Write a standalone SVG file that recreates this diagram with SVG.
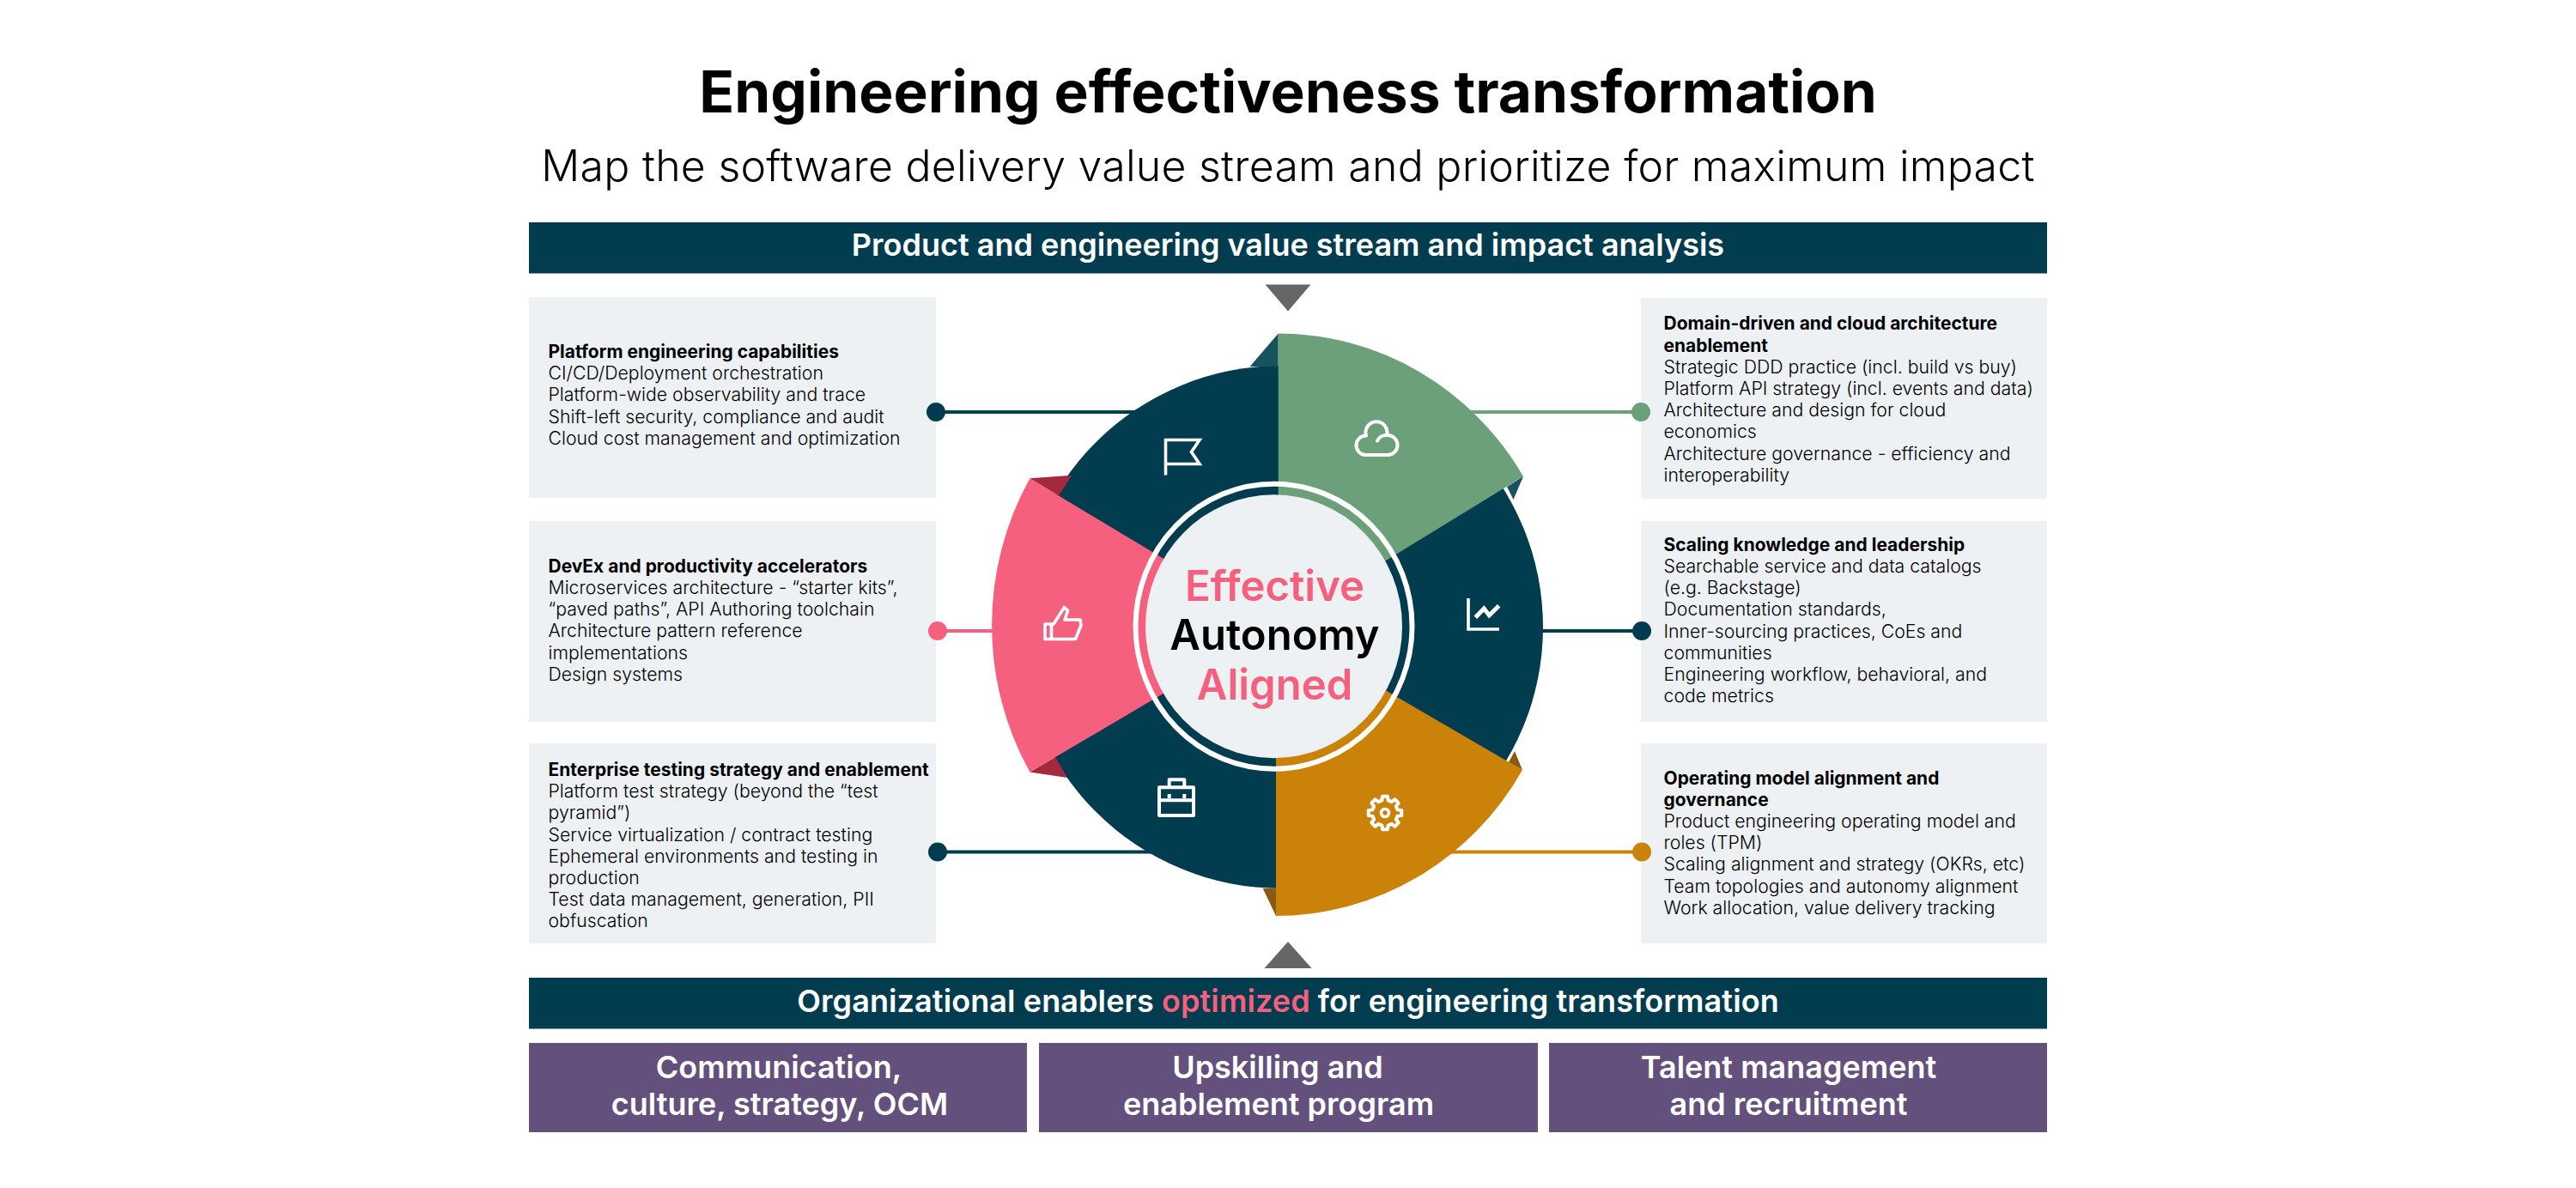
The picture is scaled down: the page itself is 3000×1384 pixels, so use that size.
<svg xmlns="http://www.w3.org/2000/svg" width="3000" height="1384" viewBox="0 0 3000 1384">
<defs><style>
text{font-family:Inter,"Noto Sans","Liberation Sans",sans-serif;font-variant-ligatures:none}
.title{font-size:67.500px;font-weight:700;fill:#000;text-anchor:middle}
.sub{font-size:50px;font-weight:300;fill:#000;text-anchor:middle;letter-spacing:.25px}
.bar{fill:#023d4f}
.bartext{font-size:36px;font-weight:600;fill:#fff;text-anchor:middle}
.purple{fill:#64507d}
.box{fill:#edf1f4}
.body{font-size:21.250px;font-weight:350;fill:#000}
.body .h{font-size:20.900px;font-weight:700;letter-spacing:.04px}
.pinkt{fill:#f4607d}
.center{font-size:49px;font-weight:600;text-anchor:middle}
.tri{fill:#666}
.ic{fill:none;stroke:#fff;stroke-width:4;stroke-linejoin:round}
.sharp{stroke-linejoin:miter;stroke-miterlimit:8;stroke-width:3.600px}
.rnd{stroke-linecap:round}
.line{stroke-width:4;fill:none}
</style></defs>
<rect width="3000" height="1384" fill="#fff"/>
<g id="header">
<text class="title" x="1500" y="131">Engineering effectiveness transformation</text>
<text class="sub" x="1500" y="211">Map the software delivery value stream and prioritize for maximum impact</text>
</g>
<g id="top-bar"><rect class="bar" x="616" y="259" width="1768" height="59.500"/><text class="bartext" x="1500" y="298">Product and engineering value stream and impact analysis</text></g>
<g id="box-platform"><rect class="box" x="616" y="346" width="474" height="234"/>
<text class="body" y="417"><tspan class="h" x="638.500">Platform engineering capabilities</tspan><tspan x="638.500" dy="25.200">CI/CD/Deployment orchestration</tspan><tspan x="638.500" dy="25.200">Platform-wide observability and trace</tspan><tspan x="638.500" dy="25.200">Shift-left security, compliance and audit</tspan><tspan x="638.500" dy="25.200">Cloud cost management and optimization</tspan></text></g>
<g id="box-devex"><rect class="box" x="616" y="607" width="474" height="234"/>
<text class="body" y="666.800"><tspan class="h" x="638.500">DevEx and productivity accelerators</tspan><tspan x="638.500" dy="25.200">Microservices architecture - “starter kits”,</tspan><tspan x="638.500" dy="25.200">“paved paths”, API Authoring toolchain</tspan><tspan x="638.500" dy="25.200">Architecture pattern reference</tspan><tspan x="638.500" dy="25.200">implementations</tspan><tspan x="638.500" dy="25.200">Design systems</tspan></text></g>
<g id="box-testing"><rect class="box" x="616" y="866" width="474" height="233"/>
<text class="body" y="904"><tspan class="h" x="638.500">Enterprise testing strategy and enablement</tspan><tspan x="638.500" dy="25.200">Platform test strategy (beyond the “test</tspan><tspan x="638.500" dy="25.200">pyramid”)</tspan><tspan x="638.500" dy="25.200">Service virtualization / contract testing</tspan><tspan x="638.500" dy="25.200">Ephemeral environments and testing in</tspan><tspan x="638.500" dy="25.200">production</tspan><tspan x="638.500" dy="25.200">Test data management, generation, PII</tspan><tspan x="638.500" dy="25.200">obfuscation</tspan></text></g>
<g id="box-domain"><rect class="box" x="1911" y="347" width="473" height="234"/>
<text class="body" y="384.300"><tspan class="h" x="1937.500">Domain-driven and cloud architecture</tspan><tspan class="h" x="1937.500" dy="25.200">enablement</tspan><tspan x="1937.500" dy="25.200">Strategic DDD practice (incl. build vs buy)</tspan><tspan x="1937.500" dy="25.200">Platform API strategy (incl. events and data)</tspan><tspan x="1937.500" dy="25.200">Architecture and design for cloud</tspan><tspan x="1937.500" dy="25.200">economics</tspan><tspan x="1937.500" dy="25.200">Architecture governance - efficiency and</tspan><tspan x="1937.500" dy="25.200">interoperability</tspan></text></g>
<g id="box-scaling"><rect class="box" x="1911" y="607" width="473" height="234"/>
<text class="body" y="641.800"><tspan class="h" x="1937.500">Scaling knowledge and leadership</tspan><tspan x="1937.500" dy="25.200">Searchable service and data catalogs</tspan><tspan x="1937.500" dy="25.200">(e.g. Backstage)</tspan><tspan x="1937.500" dy="25.200">Documentation standards,</tspan><tspan x="1937.500" dy="25.200">Inner-sourcing practices, CoEs and</tspan><tspan x="1937.500" dy="25.200">communities</tspan><tspan x="1937.500" dy="25.200">Engineering workflow, behavioral, and</tspan><tspan x="1937.500" dy="25.200">code metrics</tspan></text></g>
<g id="box-operating"><rect class="box" x="1911" y="866" width="473" height="233"/>
<text class="body" y="913.500"><tspan class="h" x="1937.500">Operating model alignment and</tspan><tspan class="h" x="1937.500" dy="25.200">governance</tspan><tspan x="1937.500" dy="25.200">Product engineering operating model and</tspan><tspan x="1937.500" dy="25.200">roles (TPM)</tspan><tspan x="1937.500" dy="25.200">Scaling alignment and strategy (OKRs, etc)</tspan><tspan x="1937.500" dy="25.200">Team topologies and autonomy alignment</tspan><tspan x="1937.500" dy="25.200">Work allocation, value delivery tracking</tspan></text></g>
<g id="connectors">
<path class="line" stroke="#023d4f" d="M1090,480H1325"/><circle cx="1090" cy="480" r="11" fill="#023d4f"/>
<path class="line" stroke="#6ca07a" d="M1710,480H1911"/><circle cx="1911" cy="480" r="11" fill="#6ca07a"/>
<path class="line" stroke="#f4607d" d="M1092,735H1160"/><circle cx="1092" cy="735" r="11" fill="#f4607d"/>
<path class="line" stroke="#023d4f" d="M1790,735H1912"/><circle cx="1912" cy="735" r="11" fill="#023d4f"/>
<path class="line" stroke="#023d4f" d="M1092,992.500H1345"/><circle cx="1092" cy="992.500" r="11" fill="#023d4f"/>
<path class="line" stroke="#ca8208" d="M1685,992.500H1912"/><circle cx="1912" cy="992.500" r="11" fill="#ca8208"/>
<path class="tri" d="M1473.500,331.500H1526.500L1500,362.500Z"/>
<path class="tri" d="M1472.500,1128H1527.500L1500,1097Z"/>
</g>
<g id="wheel">
<ellipse cx="1492" cy="730.500" rx="305" ry="304.500" fill="#023d4f"/>
<path fill="#17535f" d="M1488.700,388.600L1455.600,427H1488.700Z"/>
<path fill="#17535f" d="M1774,555L1755,567L1762.500,582Z"/>
<path fill="#a4293f" d="M1199.400,557.300L1248,553.800L1233,577.700Z"/>
<path fill="#a4293f" d="M1199.400,899.600L1229,882L1243,906Z"/>
<path fill="#8a5a10" d="M1773,897L1764,875L1757,888Z"/>
<path fill="#8a5a10" d="M1486,1067L1470.700,1035H1486Z"/>
<path fill="#6ca07a" d="M1488.700,730V388.600A332,342 0 0 1 1774,555Z"/>
<path fill="#ca8208" d="M1486,730L1773,897A332,340 0 0 1 1486,1067Z"/>
<path fill="#f4607d" d="M1487,730L1199.400,557.300A332,343 0 0 0 1199.400,899.600Z"/>
</g>
<g id="hub">
<ellipse cx="1483.500" cy="729.700" rx="161" ry="166" fill="none" stroke="#fff" stroke-width="6"/>
<ellipse cx="1483.500" cy="729.700" rx="149.500" ry="153.500" fill="#edf1f4"/>
<text class="center pinkt" x="1484.500" y="699.500">Effective</text>
<text class="center" x="1484.500" y="756.500" fill="#000">Autonomy</text>
<text class="center pinkt" x="1484.500" y="814.500">Aligned</text>
</g>
<g id="icon-flag"><path class="ic sharp" d="M1357.500,553.500V512.500H1397L1387.500,526.500L1397,540.500H1357.500"/></g>
<g id="icon-cloud"><path class="ic rnd" d="M1590.500,530H1616A11.500,11.500 0 0 0 1616,507A12,12 0 0 0 1604,513.500M1591,507.500A12.500,12.500 0 1 1 1615,507M1590.500,530A11.200,11.200 0 0 1 1591,507.500"/></g>
<g id="icon-chart"><path class="ic sharp" d="M1710,697V733H1746"/><path class="ic sharp" style="stroke-width:5" d="M1718.300,719.300L1728.300,709L1734.300,716.700L1745.700,705.700"/></g>
<g id="icon-thumb"><path class="ic" style="stroke-width:3.600" d="M1217,727H1227L1239.500,707.500L1243.500,711.500L1240,722H1258L1259,728.500L1252.500,744.500H1217ZM1224.500,727V744.500"/></g>
<g id="icon-gear" transform="translate(1613,947)"><path class="ic" d="M-3.630,-14.550L-3.050,-19.260H3.050L3.630,-14.550L7.720,-12.860L11.460,-15.780L15.780,-11.460L12.860,-7.720L14.550,-3.630L19.260,-3.050V3.050L14.550,3.630L12.860,7.720L15.780,11.460L11.460,15.780L7.720,12.860L3.630,14.550L3.050,19.260H-3.050L-3.630,14.550L-7.720,12.860L-11.460,15.780L-15.780,11.460L-12.860,7.720L-14.550,3.630L-19.260,3.050V-3.050L-14.550,-3.630L-12.860,-7.720L-15.780,-11.460L-11.460,-15.780L-7.720,-12.860Z"/><circle class="ic" style="stroke-width:3.600" r="4.500"/></g>
<g id="icon-case"><path class="ic" d="M1350,917.300H1390V950H1350ZM1361.700,917.300V908.300H1379.300V917.300M1350,932.300H1390M1361.700,925V930M1379.300,925V930"/></g>
<g id="bottom-bar"><rect class="bar" x="616" y="1139" width="1768" height="59.500"/><text class="bartext" x="1500" y="1179" style="letter-spacing:.1px">Organizational enablers <tspan class="pinkt">optimized</tspan> for engineering transformation</text></g>
<g id="enabler-1"><rect class="purple" x="616" y="1215" width="580" height="104"/><text class="bartext" x="907" y="1256">Communication,</text><text class="bartext" x="908" y="1299">culture, strategy, OCM</text></g>
<g id="enabler-2"><rect class="purple" x="1210" y="1215" width="581" height="104"/><text class="bartext" x="1488" y="1256">Upskilling and</text><text class="bartext" x="1489" y="1299">enablement program</text></g>
<g id="enabler-3"><rect class="purple" x="1804" y="1215" width="580" height="104"/><text class="bartext" x="2083" y="1256">Talent management</text><text class="bartext" x="2083" y="1299">and recruitment</text></g>
</svg>
